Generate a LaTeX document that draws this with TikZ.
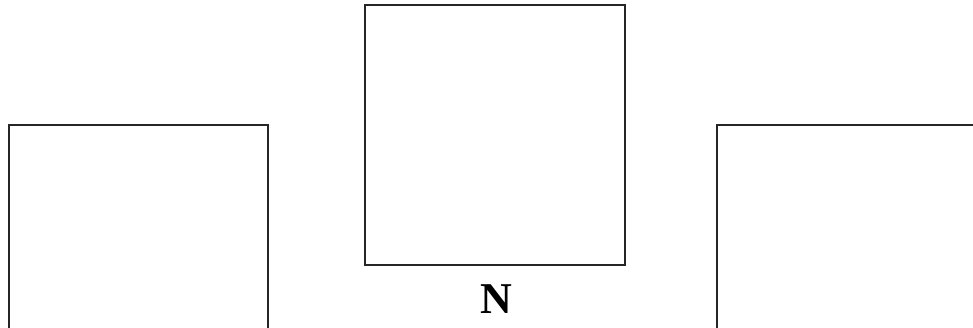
\documentclass[tikz,border=0pt]{standalone}
\usepackage{fontspec}
\setmainfont{Liberation Serif}
\begin{document}
\begin{tikzpicture}[x=1pt,y=1pt,line width=2.4pt,
  boxline/.style={draw=black!85,line join=miter}]
\useasboundingbox (0,0) rectangle (973,327);
% left box (open at bottom)
\draw[boxline] (9,-5) -- (9,202) -- (268,202) -- (268,-5);
% centre box
\node[boxline,minimum width=260pt,minimum height=259.5pt,inner sep=0pt,anchor=north west] (c) at (364,323) {};
\node[font=\fontsize{44}{44}\selectfont\bfseries,anchor=base] (n) at (496.5,13.5) {N};
% right box (open at bottom and right)
\draw[boxline] (717,-5) -- (717,202) -- (980,202);
\end{tikzpicture}
\end{document}
